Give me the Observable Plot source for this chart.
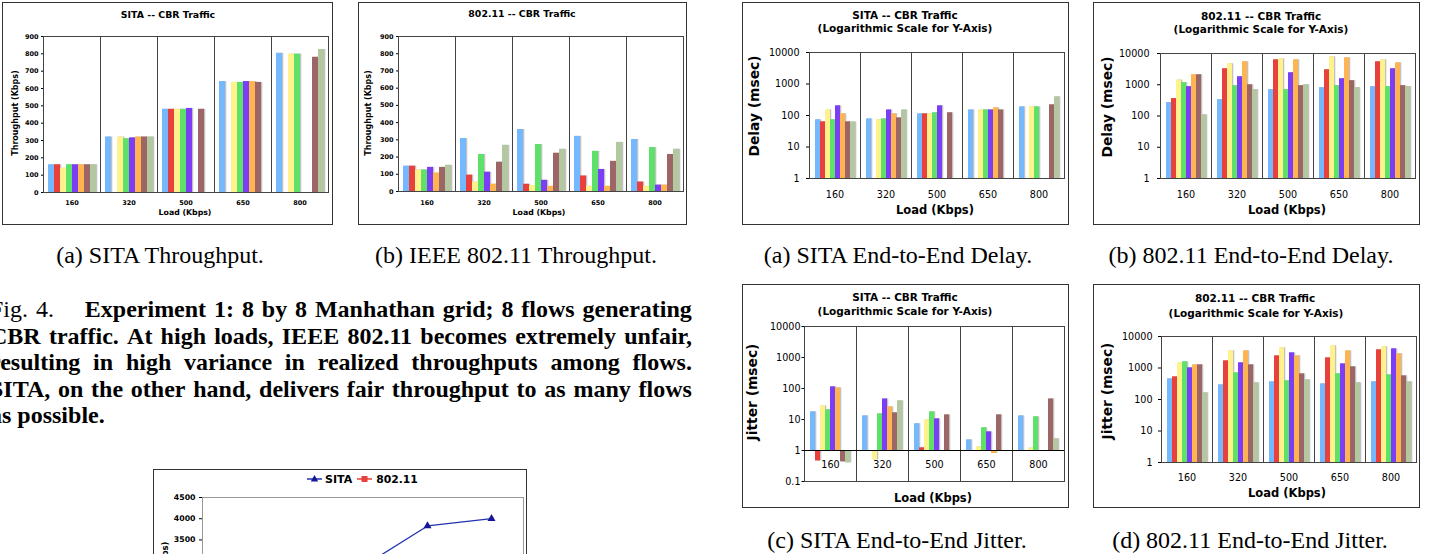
<!DOCTYPE html>
<html><head><meta charset="utf-8">
<script src="https://cdn.jsdelivr.net/npm/d3@7"></script>
<script src="https://cdn.jsdelivr.net/npm/@observablehq/plot@0.6"></script>
<style>
html,body{margin:0;padding:0;background:#fff;}
body{width:1429px;height:554px;overflow:hidden;position:relative;}
.chart{position:absolute;}
.chart .border{position:absolute;left:0;top:0;right:0;bottom:0;border:1px solid #333;box-sizing:border-box;pointer-events:none;}
.chart svg{position:absolute;left:0;top:0;overflow:visible;}
.t{position:absolute;white-space:nowrap;transform:translate(-50%,-50%);font-family:"DejaVu Sans",Verdana,sans-serif;font-weight:bold;line-height:1;color:#000;text-align:center;}
.ty{transform:translate(-50%,-50%) rotate(-90deg);}
.cap{position:absolute;white-space:nowrap;transform:translateX(-50%);font-family:"Liberation Serif","Times New Roman",serif;font-size:24px;line-height:24px;color:#000;}
.para{position:absolute;left:-10px;width:702px;font-family:"Liberation Serif","Times New Roman",serif;font-size:24px;line-height:24px;white-space:nowrap;color:#000;}
.para.j{display:flex;justify-content:space-between;}
.para b{font-weight:bold;}
.legend{position:absolute;left:307px;top:473px;height:12px;display:flex;align-items:center;font-family:"DejaVu Sans",Verdana,sans-serif;font-weight:bold;white-space:nowrap;}
</style>
</head><body>
<script>
// ---------------- data ----------------
const loads = ["160", "320", "500", "650", "800"];
const flows = ["Flow 1", "Flow 2", "Flow 3", "Flow 4", "Flow 5", "Flow 6", "Flow 7", "Flow 8"];
const flowColors = ["#74B9FF", "#E8413D", "#FFF28C", "#5DE168", "#7B3DF6", "#FFB452", "#9C6666", "#B3C7A1"];

// rows = loads, columns = flows (null = no bar)
const sitaThroughput = [
  [160, 160, 140, 160, 160, 160, 160, 160],
  [320, null, 320, 310, 315, 320, 320, 320],
  [480, 480, 480, 480, 485, null, 480, null],
  [640, null, 635, 635, 640, 640, 635, null],
  [803, null, 798, 798, null, null, 780, 825]
];
const wifiThroughput = [
  [147, 147, 125, 125, 140, 107, 140, 152],
  [308, 95, 55, 215, 112, 42, 170, 268],
  [360, 42, 35, 273, 65, 30, 222, 245],
  [320, 90, 30, 233, 128, 30, 175, 285],
  [302, 55, 30, 255, 37, 37, 215, 245]
];
const sitaDelay = [
  [73, 63, 150, 73, 203, 113, 63, 62],
  [78, null, 73, 78, 150, 113, 84, 150],
  [113, 113, 113, 122, 203, null, 122, null],
  [150, null, 150, 150, 150, 175, 150, null],
  [188, null, 188, 188, null, null, 218, 392]
];
const wifiDelay = [
  [269, 361, 1420, 1165, 870, 2090, 2090, 109],
  [335, 3250, 4700, 935, 1800, 5430, 1000, 697],
  [697, 6280, 6760, 697, 2425, 6280, 935, 1000],
  [807, 3020, 7830, 935, 1563, 7280, 1350, 807],
  [870, 5430, 6280, 870, 3250, 5030, 935, 870]
];
const sitaJitter = [
  [17.7, 0.46, 27.6, 20.5, 113, 105, 0.43, 0.40],
  [13.1, null, 0.50, 15.2, 46, 25.6, 16.4, 40],
  [7.3, 1.22, 9.7, 17.7, 10.5, null, 14.1, null],
  [2.2, null, 1.31, 5.4, 4.0, 0.80, 14.1, null],
  [13.1, null, 1.2, 12.2, null, null, 46, 2.38]
];
const wifiJitter = [
  [453, 524, 1460, 1570, 1012, 1260, 1260, 163],
  [292, 1690, 3500, 702, 1460, 3500, 1260, 338],
  [364, 2430, 4370, 392, 3030, 2430, 653, 421],
  [314, 2100, 5060, 653, 1355, 3500, 1090, 338],
  [364, 3780, 4700, 607, 4060, 2820, 563, 364]
];
// aggregate throughput (line chart, only its top is visible)
const protocols = ["SITA", "802.11"];
const sitaTotal = [1260, 2225, 2885, 3830, 4000];
const wifiTotal = [1083, 1265, 1272, 1291, 1176];

const throughputTicks = [0, 100, 200, 300, 400, 500, 600, 700, 800, 900];
const logTicks = [1, 10, 100, 1000, 10000];
const jitterTicks = [0.1, 1, 10, 100, 1000, 10000];
const totalTicks = [3500, 4000, 4500]; // the only tick labels inside the picture

// ---------------- text ----------------
const texts = [
  // [text, cx, cy, fontSize, rotated]
  ["SITA -- CBR Traffic", 168, 15, 9.4, false],
  ["Load (Kbps)", 185, 213, 7.8, false],
  ["Throughput (Kbps)", 16, 113, 8, true],
  ["802.11 -- CBR Traffic", 522, 14, 9.4, false],
  ["Load (Kbps)", 539, 213, 7.8, false],
  ["Throughput (Kbps)", 369, 113, 8, true],
  ["SITA -- CBR Traffic", 905, 15, 10.5, false],
  ["(Logarithmic Scale for Y-Axis)", 905, 27.5, 10.5, false],
  ["Load (Kbps)", 935, 211, 11.5, false],
  ["Delay (msec)", 755, 106, 13.8, true],
  ["802.11 -- CBR Traffic", 1261, 15.5, 10.5, false],
  ["(Logarithmic Scale for Y-Axis)", 1261, 28.5, 10.5, false],
  ["Load (Kbps)", 1287, 211, 11.5, false],
  ["Delay (msec)", 1108, 107, 13.8, true],
  ["SITA -- CBR Traffic", 905, 297, 10.5, false],
  ["(Logarithmic Scale for Y-Axis)", 905, 310.5, 10.5, false],
  ["Load (Kbps)", 933, 499, 11.5, false],
  ["Jitter (msec)", 753, 392, 13.8, true],
  ["802.11 -- CBR Traffic", 1255, 298, 10.5, false],
  ["(Logarithmic Scale for Y-Axis)", 1256, 312.5, 10.5, false],
  ["Load (Kbps)", 1287, 494, 11.5, false],
  ["Jitter (msec)", 1108, 391, 13.8, true],
  ["Throughput (Kbps)", 165, 587, 8.5, true]
];
const captions = [
  ["(a) SITA Throughput.", 160, 263],
  ["(b) IEEE 802.11 Throughput.", 516, 263],
  ["(a) SITA End-to-End Delay.", 898, 263],
  ["(b) 802.11 End-to-End Delay.", 1251, 263],
  ["(c) SITA End-to-End Jitter.", 897, 548],
  ["(d) 802.11 End-to-End Jitter.", 1250, 548]
];
const figLabel = "Fig. 4.";
const figLines = [
  "Experiment 1: 8 by 8 Manhathan grid; 8 flows generating",
  "CBR traffic. At high loads, IEEE 802.11 becomes extremely unfair,",
  "resulting in high variance in realized throughputs among flows.",
  "SITA, on the other hand, delivers fair throughput to as many flows",
  "as possible."
];

// ---------------- helpers ----------------
function table(matrix) {
  const out = [];
  matrix.forEach((row, i) => row.forEach((v, j) => {
    if (v != null) out.push({load: loads[i], flow: flows[j], value: v});
  }));
  return out;
}

function barChart(cfg) {
  const data = table(cfg.values);
  const base = cfg.base;
  const marks = [
    Plot.barY(data, {fx: "load", x: "flow", y1: () => base, y2: "value", fill: "#c2c2c2", dx: 1.3}),
    Plot.barY(data, {fx: "load", x: "flow", y1: () => base, y2: "value", fill: "flow"}),
    Plot.frame({stroke: "#444"})
  ];
  if (cfg.inlineLabels) {
    marks.push(Plot.ruleY([1], {stroke: "#000"}));
    marks.push(Plot.text(loads, {fx: d => d, y: () => 1, text: d => d, dy: cfg.labelDy}));
  }
  const y = {domain: cfg.domain, ticks: cfg.ticks, label: null, tickSize: cfg.ySize, tickPadding: cfg.yPad, tickFormat: d => String(d)};
  if (cfg.log) y.type = "log";
  return Plot.plot({
    width: cfg.width, height: cfg.height,
    marginLeft: cfg.mL, marginRight: cfg.mR, marginTop: cfg.mT, marginBottom: cfg.mB,
    style: {fontFamily: "DejaVu Sans, Verdana, sans-serif", fontSize: cfg.font, fontWeight: cfg.weight, color: "#000", background: "transparent", overflow: "visible"},
    fx: cfg.inlineLabels ? {domain: loads, padding: 0, axis: null} :
        {domain: loads, padding: 0, axis: "bottom", label: null, tickSize: 0, tickPadding: cfg.fxPad},
    x: {domain: flows, axis: null, paddingInner: 0, paddingOuter: cfg.po},
    y,
    color: {domain: flows, range: flowColors},
    marks
  });
}

function place(node, left, top, width, height) {
  const div = document.createElement("div");
  div.className = "chart";
  Object.assign(div.style, {left: left + "px", top: top + "px", width: width + "px", height: height + "px"});
  div.appendChild(node);
  const b = document.createElement("div");
  b.className = "border";
  div.appendChild(b);
  document.body.appendChild(div);
}

// ---------------- bar charts ----------------
const layouts = [
  {values: sitaThroughput, left: 2, top: 2, width: 331, height: 223, mL: 40, mR: 5, mT: 34, mB: 33, domain: [0, 900], ticks: throughputTicks, log: false, base: 0, po: 0.56, font: "6.5px", weight: "bold", ySize: 2, yPad: 3, fxPad: 7.7},
  {values: wifiThroughput, left: 358, top: 2, width: 329, height: 223, mL: 39, mR: 4, mT: 34, mB: 34, domain: [0, 900], ticks: throughputTicks, log: false, base: 0, po: 0.56, font: "6.5px", weight: "bold", ySize: 2, yPad: 3, fxPad: 8.7},
  {values: sitaDelay, left: 742, top: 2, width: 327, height: 223, mL: 66, mR: 4, mT: 50, mB: 47, domain: [1, 10000], ticks: logTicks, log: true, base: 1, po: 0.72, font: "9.6px", weight: "normal", ySize: 3, yPad: 7, fxPad: 12.6},
  {values: wifiDelay, left: 1093, top: 2, width: 327, height: 223, mL: 66, mR: 5, mT: 51, mB: 47, domain: [1, 10000], ticks: logTicks, log: true, base: 1, po: 0.72, font: "9.6px", weight: "normal", ySize: 3, yPad: 8, fxPad: 12.6},
  {values: sitaJitter, left: 742, top: 284, width: 327, height: 224, mL: 61, mR: 4, mT: 42, mB: 27, domain: [0.1, 10000], ticks: jitterTicks, log: true, base: 1, po: 0.72, font: "9.6px", weight: "normal", ySize: 2.5, yPad: 1.5, inlineLabels: true, labelDy: 14},
  {values: wifiJitter, left: 1093, top: 284, width: 327, height: 224, mL: 67, mR: 3, mT: 52, mB: 46, domain: [1, 10000], ticks: logTicks, log: true, base: 1, po: 0.72, font: "9.6px", weight: "normal", ySize: 3, yPad: 6, fxPad: 11.6}
];
layouts.forEach(cfg => place(barChart(cfg), cfg.left, cfg.top, cfg.width, cfg.height));

// ---------------- line chart (cut off at the bottom) ----------------
const lineData = loads.map((l, i) => ({load: l, protocol: protocols[0], value: sitaTotal[i]}))
  .concat(loads.map((l, i) => ({load: l, protocol: protocols[1], value: wifiTotal[i]})));
const lineChart = Plot.plot({
  width: 374, height: 290, marginLeft: 49, marginRight: 4, marginTop: 28, marginBottom: 71,
  style: {fontFamily: "DejaVu Sans, Verdana, sans-serif", fontSize: "7.8px", fontWeight: "bold", color: "#000", background: "transparent", overflow: "visible"},
  x: {type: "point", domain: loads, padding: 0.5, axis: null},
  y: {domain: [0, 4500], ticks: totalTicks, label: null, tickSize: 3, tickPadding: 4, line: true, tickFormat: d => String(d)},
  marks: [
    Plot.frame({stroke: "#999"}),
    Plot.line(lineData.filter(d => d.protocol === "802.11"), {x: "load", y: "value", stroke: "#E8403C", strokeWidth: 1.3}),
    Plot.dot(lineData.filter(d => d.protocol === "802.11"), {x: "load", y: "value", symbol: "square", r: 2.8, fill: "#E8403C"}),
    Plot.line(lineData.filter(d => d.protocol === "SITA"), {x: "load", y: "value", stroke: "#2233B0", strokeWidth: 1.3}),
    Plot.dot(lineData.filter(d => d.protocol === "SITA"), {x: "load", y: "value", symbol: "triangle", r: 3, fill: "#16169A"})
  ]
});
place(lineChart, 153, 469, 374, 300);

// legend of the line chart
(function () {
  const lg = document.createElement("div");
  lg.className = "legend";
  function icon(color, shape) {
    const s = d3.create("svg").attr("width", 15).attr("height", 12).style("overflow", "visible");
    s.append("line").attr("x1", 0).attr("x2", 15).attr("y1", 6).attr("y2", 6).attr("stroke", color).attr("stroke-width", 1.5);
    if (shape === "triangle") s.append("path").attr("d", "M7.5,2 L11.2,8.6 L3.8,8.6 Z").attr("fill", "#16169A");
    else s.append("rect").attr("x", 4.5).attr("y", 3).attr("width", 6).attr("height", 6).attr("fill", color);
    return s.node();
  }
  const t1 = document.createElement("span");
  t1.textContent = protocols[0]; t1.style.fontSize = "11px"; t1.style.marginLeft = "3px";
  const i2 = icon("#E8403C", "square"); i2.style.marginLeft = "5px";
  const t2 = document.createElement("span");
  t2.textContent = protocols[1]; t2.style.fontSize = "10.8px"; t2.style.marginLeft = "4px";
  lg.append(icon("#2233B0", "triangle"), t1, i2, t2);
  document.body.appendChild(lg);
})();

// ---------------- chart texts ----------------
texts.forEach(([s, x, y, fs, rot]) => {
  const d = document.createElement("div");
  d.className = rot ? "t ty" : "t";
  d.textContent = s;
  Object.assign(d.style, {left: x + "px", top: y + "px", fontSize: fs + "px"});
  document.body.appendChild(d);
});

// ---------------- captions ----------------
captions.forEach(([s, x, baseline]) => {
  const d = document.createElement("div");
  d.className = "cap";
  d.textContent = s;
  Object.assign(d.style, {left: x + "px", top: (baseline - 20) + "px"});
  document.body.appendChild(d);
});

// ---------------- figure paragraph (justified lines) ----------------
const baselines = [317, 343.5, 370, 396.5, 423];
figLines.forEach((line, i) => {
  const d = document.createElement("div");
  const last = i === figLines.length - 1;
  d.className = last ? "para" : "para j";
  d.style.top = (baselines[i] - 20) + "px";
  if (i === 0) {
    figLabel.split(" ").forEach((w, k, arr) => {
      const s = document.createElement("span");
      s.textContent = w;
      if (k === arr.length - 1) s.style.marginRight = "23px";
      d.appendChild(s);
    });
  }
  if (last) {
    const b = document.createElement("b");
    b.textContent = line;
    d.appendChild(b);
  } else {
    line.split(" ").forEach(w => {
      const b = document.createElement("b");
      b.textContent = w;
      d.appendChild(b);
    });
  }
  document.body.appendChild(d);
});
</script>
</body></html>
